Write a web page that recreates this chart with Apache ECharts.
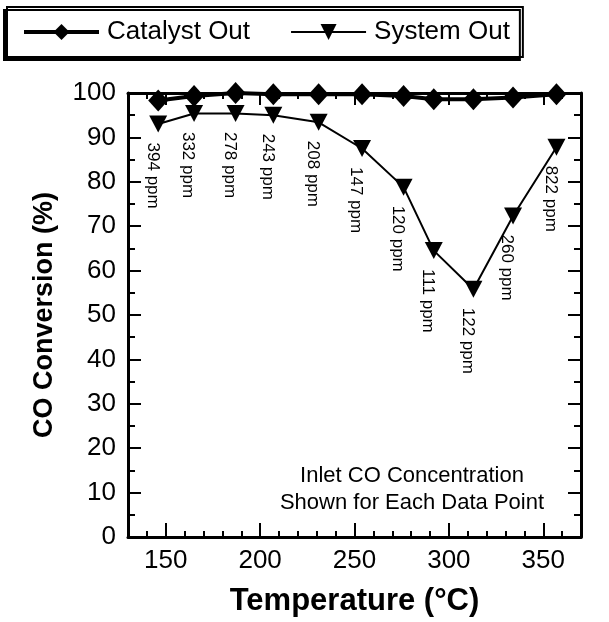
<!DOCTYPE html>
<html>
<head>
<meta charset="utf-8">
<script src="https://cdn.jsdelivr.net/npm/echarts@6/dist/echarts.min.js"></script>
<style>
  html, body { margin: 0; padding: 0; background: #fff; }
  #chart { width: 609px; height: 622px; }
</style>
</head>
<body>
<div id="chart"></div>
<script>
// Measurement temperatures (°C)
const temperatures = [146, 165, 187, 207, 231, 254, 276, 292, 313, 334, 357];
// CO conversion (%) after the catalyst and at the system outlet
const catalystOut = [98.3, 99.3, 100, 99.7, 99.7, 99.7, 99.3, 98.6, 98.6, 99.0, 99.7];
const systemOut = [93.0, 95.4, 95.4, 95.0, 93.4, 87.5, 78.8, 64.5, 55.8, 72.3, 87.8];
// Inlet CO concentration for each point (ppm)
const inletPpm = [394, 332, 278, 243, 208, 147, 120, 111, 122, 260, 822];
// Labelled temperature ticks
const xTicks = [150, 200, 250, 300, 350];

const FONT = '"Liberation Sans", Arial, Helvetica, sans-serif';
const chart = echarts.init(document.getElementById('chart'), null, { renderer: 'canvas' });

const pairs = (xs, ys) => xs.map((x, i) => [x, ys[i]]);
const tickStyle = { color: '#000', width: 2 };
const hiddenLabel = { show: false };

const option = {
  backgroundColor: '#fff',
  animation: false,
  textStyle: { fontFamily: FONT, color: '#000' },
  legend: {
    left: 7,
    top: 7,
    itemWidth: 75,
    itemHeight: 20,
    itemGap: 40,
    padding: [12, 13, 12, 15],
    borderColor: '#000',
    borderWidth: 2,
    backgroundColor: '#fff',
    shadowColor: '#000',
    shadowBlur: 0,
    shadowOffsetX: -3,
    shadowOffsetY: 3,
    textStyle: { fontFamily: FONT, fontSize: 26, color: '#000', padding: [0, 0, 0, 3] },
    data: [
      { name: 'Catalyst Out', lineStyle: { width: 4 } },
      { name: 'System Out', lineStyle: { width: 2 } }
    ]
  },
  grid: { left: 128, right: 28, top: 93, bottom: 84, containLabel: false },
  xAxis: [
    {
      // bottom axis: line, minor ticks every 10 and the tick labels
      type: 'value', min: 130, max: 370, interval: 10, position: 'bottom',
      name: 'Temperature (°C)', nameLocation: 'middle', nameGap: 49,
      nameTextStyle: { fontFamily: FONT, fontSize: 31, fontWeight: 'bold', color: '#000' },
      axisLine: { show: true, lineStyle: { color: '#000', width: 3 } },
      axisTick: { show: true, inside: true, length: 6, lineStyle: tickStyle },
      axisLabel: { customValues: xTicks, fontFamily: FONT, fontSize: 26, color: '#000', margin: 11 },
      splitLine: { show: false }
    },
    {
      // bottom axis: long ticks at the labelled values
      type: 'value', min: 130, max: 370, position: 'bottom',
      axisLine: { show: false },
      axisTick: { show: true, inside: true, length: 14, customValues: xTicks, lineStyle: tickStyle },
      axisLabel: hiddenLabel,
      splitLine: { show: false }
    },
    {
      // top frame with minor ticks
      type: 'value', min: 130, max: 370, interval: 10, position: 'top',
      axisLine: { show: true, lineStyle: { color: '#000', width: 3 } },
      axisTick: { show: true, inside: true, length: 6, lineStyle: tickStyle },
      axisLabel: hiddenLabel,
      splitLine: { show: false }
    },
    {
      // top frame long ticks
      type: 'value', min: 130, max: 370, position: 'top',
      axisLine: { show: false },
      axisTick: { show: true, inside: true, length: 12, customValues: xTicks, lineStyle: tickStyle },
      axisLabel: hiddenLabel,
      splitLine: { show: false }
    }
  ],
  yAxis: [
    {
      type: 'value', min: 0, max: 100, interval: 10, position: 'left',
      name: 'CO Conversion (%)', nameLocation: 'middle', nameGap: 70, nameRotate: 90,
      nameTextStyle: { fontFamily: FONT, fontSize: 27, fontWeight: 'bold', color: '#000' },
      axisLine: { show: true, lineStyle: { color: '#000', width: 3 } },
      axisTick: { show: true, inside: true, length: 13, lineStyle: tickStyle },
      minorTick: { show: true, splitNumber: 2, length: 7, lineStyle: tickStyle },
      axisLabel: { fontFamily: FONT, fontSize: 26, color: '#000', margin: 12 },
      splitLine: { show: false }
    },
    {
      type: 'value', min: 0, max: 100, interval: 10, position: 'right',
      axisLine: { show: true, lineStyle: { color: '#000', width: 3 } },
      axisTick: { show: true, inside: true, length: 13, lineStyle: tickStyle },
      minorTick: { show: true, splitNumber: 2, length: 7, lineStyle: tickStyle },
      axisLabel: hiddenLabel,
      splitLine: { show: false }
    }
  ],
  graphic: [
    {
      type: 'text', x: 412, y: 462, z: 10,
      style: {
        text: 'Inlet CO Concentration\nShown for Each Data Point',
        align: 'center', verticalAlign: 'top',
        font: '22px ' + FONT, fill: '#000', lineHeight: 27
      }
    }
  ],
  series: [
    {
      name: 'Catalyst Out', type: 'line', xAxisIndex: 0, yAxisIndex: 0,
      data: pairs(temperatures, catalystOut),
      symbol: 'diamond', symbolSize: [20, 22], z: 5,
      lineStyle: { color: '#000', width: 4 },
      itemStyle: { color: '#000' }
    },
    {
      name: 'System Out', type: 'line', xAxisIndex: 0, yAxisIndex: 0,
      data: pairs(temperatures, systemOut),
      symbol: 'triangle', symbolRotate: 180, symbolSize: [18, 17], z: 4,
      lineStyle: { color: '#000', width: 2 },
      itemStyle: { color: '#000' },
      label: {
        show: true, position: 'bottom', distance: 9, rotate: -90,
        align: 'left', verticalAlign: 'middle', offset: [1, 6],
        fontFamily: FONT, fontSize: 17, color: '#000',
        formatter: p => inletPpm[p.dataIndex] + ' ppm'
      }
    }
  ]
};

chart.setOption(option);
</script>
</body>
</html>
